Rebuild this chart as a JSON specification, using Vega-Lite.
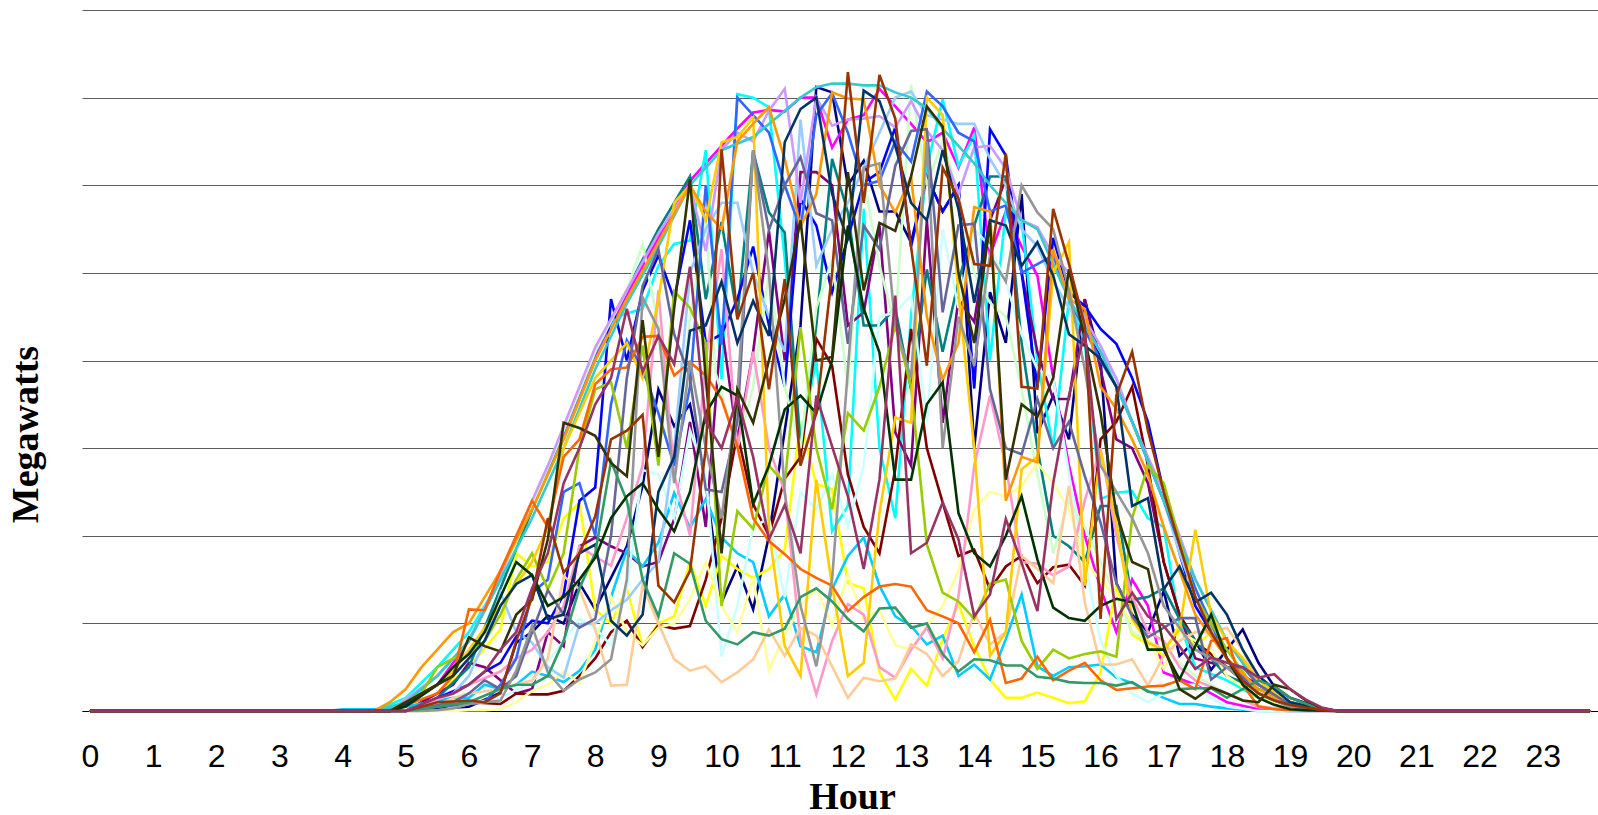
{"$schema":"https://vega.github.io/schema/vega-lite/v6.json","width":1516,"height":701,"autosize":{"type":"none"},"padding":{"left":82,"top":10,"right":0,"bottom":104},"background":"white","view":{"stroke":null},
"data":{"values":[
{"s":1,"h":0,"v":0},{"s":1,"h":5,"v":0},{"s":1,"h":5.5,"v":0.3},{"s":1,"h":6,"v":0.5},{"s":1,"h":6.5,"v":2.1},{"s":1,"h":6.75,"v":7.8},{"s":1,"h":7,"v":9},{"s":1,"h":7.25,"v":10.9},{"s":1,"h":7.5,"v":10},{"s":1,"h":7.75,"v":14.6},{"s":1,"h":8,"v":11.6},{"s":1,"h":8.5,"v":18.8},{"s":1,"h":8.75,"v":25.7},{"s":1,"h":9,"v":36.7},{"s":1,"h":9.25,"v":32.5},{"s":1,"h":9.5,"v":35},{"s":1,"h":9.75,"v":26},{"s":1,"h":10,"v":12.4},{"s":1,"h":10.25,"v":16.5},{"s":1,"h":10.5,"v":11.6},{"s":1,"h":10.75,"v":20},{"s":1,"h":11,"v":32},{"s":1,"h":11.25,"v":44},{"s":1,"h":11.5,"v":71.2},{"s":1,"h":11.75,"v":70.6},{"s":1,"h":12,"v":60},{"s":1,"h":12.25,"v":62.8},{"s":1,"h":12.5,"v":57},{"s":1,"h":12.75,"v":57},{"s":1,"h":13,"v":53.5},{"s":1,"h":13.25,"v":61},{"s":1,"h":13.5,"v":57},{"s":1,"h":13.75,"v":60},{"s":1,"h":14,"v":30},{"s":1,"h":14.25,"v":47.8},{"s":1,"h":14.5,"v":42},{"s":1,"h":14.75,"v":59},{"s":1,"h":15,"v":31.7},{"s":1,"h":15.25,"v":36},{"s":1,"h":15.5,"v":31},{"s":1,"h":15.75,"v":47},{"s":1,"h":16,"v":40},{"s":1,"h":16.25,"v":14.6},{"s":1,"h":16.5,"v":11},{"s":1,"h":16.75,"v":9},{"s":1,"h":17,"v":13.7},{"s":1,"h":17.25,"v":6.3},{"s":1,"h":17.5,"v":8},{"s":1,"h":17.75,"v":4.7},{"s":1,"h":18.25,"v":9.3},{"s":1,"h":18.5,"v":5.5},{"s":1,"h":18.75,"v":2.8},{"s":1,"h":19,"v":1.5},{"s":1,"h":19.5,"v":0.3},{"s":1,"h":19.75,"v":0},{"s":1,"h":23.75,"v":0},
{"s":2,"h":0,"v":0},{"s":2,"h":4.75,"v":0},{"s":2,"h":5.5,"v":3},{"s":2,"h":6,"v":8},{"s":2,"h":6.5,"v":15},{"s":2,"h":7,"v":23},{"s":2,"h":7.5,"v":31.5},{"s":2,"h":8,"v":40.5},{"s":2,"h":8.5,"v":47.5},{"s":2,"h":9,"v":54},{"s":2,"h":9.5,"v":60.5},{"s":2,"h":10,"v":64.5},{"s":2,"h":10.25,"v":66.5},{"s":2,"h":10.5,"v":68.3},{"s":2,"h":10.75,"v":68.6},{"s":2,"h":11,"v":68.4},{"s":2,"h":11.25,"v":70},{"s":2,"h":11.5,"v":70},{"s":2,"h":11.75,"v":64.3},{"s":2,"h":12,"v":67.5},{"s":2,"h":12.25,"v":68},{"s":2,"h":12.5,"v":71},{"s":2,"h":12.75,"v":69},{"s":2,"h":13,"v":67},{"s":2,"h":13.25,"v":64.9},{"s":2,"h":13.5,"v":66},{"s":2,"h":13.75,"v":62},{"s":2,"h":14,"v":66.6},{"s":2,"h":14.25,"v":52},{"s":2,"h":14.5,"v":57},{"s":2,"h":14.75,"v":53},{"s":2,"h":15,"v":49.7},{"s":2,"h":15.25,"v":38},{"s":2,"h":15.5,"v":28},{"s":2,"h":15.75,"v":20},{"s":2,"h":16,"v":14},{"s":2,"h":16.25,"v":9},{"s":2,"h":16.5,"v":15},{"s":2,"h":16.75,"v":12},{"s":2,"h":17,"v":4.4},{"s":2,"h":17.5,"v":3},{"s":2,"h":18,"v":1},{"s":2,"h":18.5,"v":0.2},{"s":2,"h":19,"v":0},{"s":2,"h":23.75,"v":0},
{"s":3,"h":0,"v":0},{"s":3,"h":5,"v":0},{"s":3,"h":5.5,"v":2},{"s":3,"h":6,"v":5},{"s":3,"h":6.5,"v":9.3},{"s":3,"h":6.75,"v":18},{"s":3,"h":7,"v":16.5},{"s":3,"h":7.25,"v":17},{"s":3,"h":7.5,"v":22},{"s":3,"h":7.75,"v":23.8},{"s":3,"h":8,"v":11.6},{"s":3,"h":8.25,"v":10},{"s":3,"h":8.5,"v":14},{"s":3,"h":8.75,"v":7.4},{"s":3,"h":9,"v":10},{"s":3,"h":9.25,"v":10.8},{"s":3,"h":9.5,"v":17},{"s":3,"h":9.75,"v":12},{"s":3,"h":10,"v":17.7},{"s":3,"h":10.25,"v":16.2},{"s":3,"h":10.5,"v":15.2},{"s":3,"h":10.75,"v":16.2},{"s":3,"h":11,"v":18.4},{"s":3,"h":11.25,"v":33},{"s":3,"h":11.5,"v":25.9},{"s":3,"h":11.75,"v":25.3},{"s":3,"h":12,"v":14.6},{"s":3,"h":12.25,"v":14},{"s":3,"h":12.5,"v":4.4},{"s":3,"h":12.75,"v":1.3},{"s":3,"h":13,"v":4.8},{"s":3,"h":13.25,"v":2.9},{"s":3,"h":13.5,"v":8.2},{"s":3,"h":13.75,"v":12.2},{"s":3,"h":14,"v":7.4},{"s":3,"h":14.25,"v":3.6},{"s":3,"h":14.5,"v":1.5},{"s":3,"h":14.75,"v":1.5},{"s":3,"h":15,"v":2.1},{"s":3,"h":15.25,"v":1.5},{"s":3,"h":15.5,"v":0.9},{"s":3,"h":15.75,"v":1.1},{"s":3,"h":16,"v":4.4},{"s":3,"h":16.25,"v":14.3},{"s":3,"h":16.5,"v":8.7},{"s":3,"h":16.75,"v":7.6},{"s":3,"h":17,"v":6.3},{"s":3,"h":17.25,"v":10},{"s":3,"h":17.5,"v":7.4},{"s":3,"h":17.75,"v":9},{"s":3,"h":18,"v":6},{"s":3,"h":18.5,"v":2},{"s":3,"h":19,"v":0.5},{"s":3,"h":19.75,"v":0},{"s":3,"h":23.75,"v":0},
{"s":4,"h":0,"v":0},{"s":4,"h":4.5,"v":0},{"s":4,"h":5,"v":1.5},{"s":4,"h":5.5,"v":5},{"s":4,"h":6,"v":9},{"s":4,"h":6.5,"v":15},{"s":4,"h":7,"v":23},{"s":4,"h":7.5,"v":31},{"s":4,"h":8,"v":40},{"s":4,"h":8.34,"v":45},{"s":4,"h":8.75,"v":45.9},{"s":4,"h":9,"v":50.8},{"s":4,"h":9.25,"v":53.3},{"s":4,"h":9.5,"v":53.7},{"s":4,"h":9.75,"v":64},{"s":4,"h":10,"v":37.9},{"s":4,"h":10.25,"v":70.4},{"s":4,"h":10.5,"v":70},{"s":4,"h":10.75,"v":68.9},{"s":4,"h":11,"v":51.6},{"s":4,"h":11.25,"v":31},{"s":4,"h":11.5,"v":40},{"s":4,"h":11.75,"v":20.5},{"s":4,"h":12,"v":23.4},{"s":4,"h":12.25,"v":57.3},{"s":4,"h":12.5,"v":30},{"s":4,"h":12.75,"v":22},{"s":4,"h":13,"v":45},{"s":4,"h":13.25,"v":62},{"s":4,"h":13.5,"v":69.8},{"s":4,"h":13.75,"v":62.2},{"s":4,"h":14,"v":65.7},{"s":4,"h":14.25,"v":40},{"s":4,"h":14.5,"v":57},{"s":4,"h":14.75,"v":56},{"s":4,"h":15,"v":40},{"s":4,"h":15.25,"v":30},{"s":4,"h":15.5,"v":47},{"s":4,"h":15.75,"v":42},{"s":4,"h":16,"v":24.2},{"s":4,"h":16.25,"v":24.9},{"s":4,"h":16.5,"v":25.1},{"s":4,"h":16.75,"v":22},{"s":4,"h":17,"v":21},{"s":4,"h":17.25,"v":10},{"s":4,"h":17.5,"v":5},{"s":4,"h":18,"v":3.5},{"s":4,"h":18.5,"v":1.5},{"s":4,"h":19,"v":0.4},{"s":4,"h":19.75,"v":0},{"s":4,"h":23.75,"v":0},
{"s":5,"h":0,"v":0},{"s":5,"h":5,"v":0},{"s":5,"h":5.75,"v":3},{"s":5,"h":6,"v":5.5},{"s":5,"h":6.25,"v":5},{"s":5,"h":6.5,"v":3.5},{"s":5,"h":6.75,"v":2},{"s":5,"h":7,"v":2.5},{"s":5,"h":7.25,"v":9},{"s":5,"h":7.5,"v":7.4},{"s":5,"h":7.75,"v":18.8},{"s":5,"h":8,"v":19.8},{"s":5,"h":8.25,"v":18.8},{"s":5,"h":8.5,"v":18},{"s":5,"h":8.75,"v":16.5},{"s":5,"h":9,"v":17},{"s":5,"h":9.25,"v":21.9},{"s":5,"h":9.5,"v":33},{"s":5,"h":9.75,"v":21},{"s":5,"h":10,"v":44},{"s":5,"h":10.25,"v":31},{"s":5,"h":10.5,"v":41},{"s":5,"h":10.75,"v":54.8},{"s":5,"h":11,"v":40},{"s":5,"h":11.25,"v":61.5},{"s":5,"h":11.5,"v":61.5},{"s":5,"h":11.75,"v":60},{"s":5,"h":12,"v":44},{"s":5,"h":12.25,"v":45.5},{"s":5,"h":12.5,"v":55.4},{"s":5,"h":12.75,"v":31.8},{"s":5,"h":13,"v":28},{"s":5,"h":13.25,"v":56},{"s":5,"h":13.5,"v":32.9},{"s":5,"h":13.75,"v":47},{"s":5,"h":14,"v":44.4},{"s":5,"h":14.25,"v":56},{"s":5,"h":14.5,"v":60.7},{"s":5,"h":14.75,"v":50},{"s":5,"h":15,"v":41},{"s":5,"h":15.25,"v":35.6},{"s":5,"h":15.5,"v":35.6},{"s":5,"h":15.75,"v":47},{"s":5,"h":16,"v":39},{"s":5,"h":16.25,"v":31},{"s":5,"h":16.5,"v":30},{"s":5,"h":16.75,"v":26},{"s":5,"h":17,"v":17},{"s":5,"h":17.25,"v":11},{"s":5,"h":17.5,"v":6},{"s":5,"h":18,"v":5},{"s":5,"h":18.5,"v":3},{"s":5,"h":19,"v":0.7},{"s":5,"h":19.75,"v":0},{"s":5,"h":23.75,"v":0},
{"s":6,"h":0,"v":0},{"s":6,"h":5,"v":0},{"s":6,"h":5.5,"v":0.5},{"s":6,"h":6,"v":1},{"s":6,"h":6.5,"v":0.8},{"s":6,"h":6.75,"v":2},{"s":6,"h":7,"v":1.9},{"s":6,"h":7.25,"v":1.9},{"s":6,"h":7.5,"v":2.3},{"s":6,"h":7.75,"v":4},{"s":6,"h":8,"v":6},{"s":6,"h":8.25,"v":9},{"s":6,"h":8.5,"v":10.3},{"s":6,"h":8.75,"v":7.3},{"s":6,"h":9,"v":9.8},{"s":6,"h":9.25,"v":9.4},{"s":6,"h":9.5,"v":9.7},{"s":6,"h":9.75,"v":15},{"s":6,"h":10,"v":22},{"s":6,"h":10.25,"v":31.7},{"s":6,"h":10.5,"v":23.6},{"s":6,"h":10.75,"v":20},{"s":6,"h":11,"v":26.5},{"s":6,"h":11.25,"v":29},{"s":6,"h":11.5,"v":42.5},{"s":6,"h":11.75,"v":39.4},{"s":6,"h":12,"v":27},{"s":6,"h":12.25,"v":21},{"s":6,"h":12.5,"v":18},{"s":6,"h":12.75,"v":27.6},{"s":6,"h":13,"v":43.6},{"s":6,"h":13.25,"v":30},{"s":6,"h":13.5,"v":23.8},{"s":6,"h":13.75,"v":17.7},{"s":6,"h":14,"v":18.4},{"s":6,"h":14.25,"v":13.9},{"s":6,"h":14.5,"v":16.5},{"s":6,"h":14.75,"v":17.7},{"s":6,"h":15,"v":14.6},{"s":6,"h":15.25,"v":16.4},{"s":6,"h":15.5,"v":16.7},{"s":6,"h":15.75,"v":14.3},{"s":6,"h":16,"v":31},{"s":6,"h":16.25,"v":33},{"s":6,"h":16.5,"v":37},{"s":6,"h":16.75,"v":28},{"s":6,"h":17,"v":17},{"s":6,"h":17.25,"v":11},{"s":6,"h":17.5,"v":8},{"s":6,"h":18,"v":5},{"s":6,"h":18.5,"v":2},{"s":6,"h":19,"v":0.6},{"s":6,"h":19.75,"v":0},{"s":6,"h":23.75,"v":0},
{"s":7,"h":0,"v":0},{"s":7,"h":5,"v":0},{"s":7,"h":5.5,"v":1.5},{"s":7,"h":6,"v":5},{"s":7,"h":6.5,"v":14},{"s":7,"h":7,"v":23},{"s":7,"h":7.5,"v":32},{"s":7,"h":8,"v":41},{"s":7,"h":8.5,"v":48},{"s":7,"h":9,"v":55},{"s":7,"h":9.5,"v":61},{"s":7,"h":9.75,"v":47},{"s":7,"h":10,"v":55.8},{"s":7,"h":10.25,"v":45},{"s":7,"h":10.5,"v":63.8},{"s":7,"h":10.75,"v":56.9},{"s":7,"h":11,"v":54.6},{"s":7,"h":11.25,"v":30},{"s":7,"h":11.5,"v":44},{"s":7,"h":11.75,"v":63},{"s":7,"h":12,"v":56.9},{"s":7,"h":12.25,"v":44},{"s":7,"h":12.5,"v":44},{"s":7,"h":12.75,"v":46},{"s":7,"h":13,"v":36.7},{"s":7,"h":13.25,"v":50.4},{"s":7,"h":13.5,"v":41},{"s":7,"h":13.75,"v":49},{"s":7,"h":14,"v":55.4},{"s":7,"h":14.25,"v":61},{"s":7,"h":14.5,"v":61},{"s":7,"h":14.75,"v":42},{"s":7,"h":15,"v":30},{"s":7,"h":15.25,"v":20},{"s":7,"h":15.5,"v":18.8},{"s":7,"h":15.75,"v":17},{"s":7,"h":16,"v":23.4},{"s":7,"h":16.25,"v":23.4},{"s":7,"h":16.5,"v":12.7},{"s":7,"h":16.75,"v":13},{"s":7,"h":17,"v":14},{"s":7,"h":17.25,"v":10.5},{"s":7,"h":17.5,"v":8},{"s":7,"h":17.75,"v":6},{"s":7,"h":18,"v":4},{"s":7,"h":19,"v":1},{"s":7,"h":19.75,"v":0},{"s":7,"h":23.75,"v":0},
{"s":8,"h":0,"v":0},{"s":8,"h":5,"v":0},{"s":8,"h":5.25,"v":0.7},{"s":8,"h":5.5,"v":1.5},{"s":8,"h":6,"v":3},{"s":8,"h":6.25,"v":4.5},{"s":8,"h":6.5,"v":5.5},{"s":8,"h":6.75,"v":8.5},{"s":8,"h":7,"v":10.3},{"s":8,"h":7.25,"v":10},{"s":8,"h":7.5,"v":13.3},{"s":8,"h":7.75,"v":24},{"s":8,"h":8,"v":25.5},{"s":8,"h":8.25,"v":47},{"s":8,"h":8.5,"v":40},{"s":8,"h":8.75,"v":48},{"s":8,"h":9,"v":52},{"s":8,"h":9.25,"v":47},{"s":8,"h":9.5,"v":56},{"s":8,"h":9.75,"v":42},{"s":8,"h":10,"v":43},{"s":8,"h":10.25,"v":47},{"s":8,"h":10.5,"v":53},{"s":8,"h":10.75,"v":44},{"s":8,"h":11,"v":37},{"s":8,"h":11.25,"v":58.4},{"s":8,"h":11.5,"v":55.4},{"s":8,"h":11.75,"v":47.8},{"s":8,"h":12,"v":54},{"s":8,"h":12.25,"v":60.3},{"s":8,"h":12.5,"v":61.5},{"s":8,"h":12.75,"v":66.6},{"s":8,"h":13,"v":53},{"s":8,"h":13.25,"v":61},{"s":8,"h":13.5,"v":57},{"s":8,"h":13.75,"v":60},{"s":8,"h":14,"v":36.8},{"s":8,"h":14.25,"v":66.4},{"s":8,"h":14.5,"v":63.4},{"s":8,"h":14.75,"v":50},{"s":8,"h":15,"v":37},{"s":8,"h":15.25,"v":54},{"s":8,"h":15.5,"v":47.8},{"s":8,"h":15.75,"v":46.2},{"s":8,"h":16,"v":43.6},{"s":8,"h":16.25,"v":41.9},{"s":8,"h":16.5,"v":38},{"s":8,"h":16.75,"v":33},{"s":8,"h":17,"v":25},{"s":8,"h":17.25,"v":18},{"s":8,"h":17.5,"v":12},{"s":8,"h":18,"v":6},{"s":8,"h":18.5,"v":2},{"s":8,"h":19,"v":0.5},{"s":8,"h":19.75,"v":0},{"s":8,"h":23.75,"v":0},
{"s":9,"h":0,"v":0},{"s":9,"h":3.75,"v":0},{"s":9,"h":4,"v":0.2},{"s":9,"h":4.5,"v":0.2},{"s":9,"h":5,"v":0.5},{"s":9,"h":5.75,"v":1.5},{"s":9,"h":6,"v":1.5},{"s":9,"h":6.25,"v":3},{"s":9,"h":6.5,"v":2.5},{"s":9,"h":6.75,"v":3},{"s":9,"h":7,"v":4.5},{"s":9,"h":7.25,"v":4},{"s":9,"h":7.5,"v":3.3},{"s":9,"h":7.75,"v":4.6},{"s":9,"h":8,"v":7},{"s":9,"h":8.25,"v":13},{"s":9,"h":8.5,"v":18.4},{"s":9,"h":8.75,"v":16.5},{"s":9,"h":9,"v":19.2},{"s":9,"h":9.25,"v":24.9},{"s":9,"h":9.5,"v":20.9},{"s":9,"h":9.75,"v":24.2},{"s":9,"h":10,"v":19.8},{"s":9,"h":10.25,"v":18},{"s":9,"h":10.5,"v":17},{"s":9,"h":10.75,"v":10.8},{"s":9,"h":11,"v":13.3},{"s":9,"h":11.25,"v":7.4},{"s":9,"h":11.5,"v":6.7},{"s":9,"h":11.75,"v":13.9},{"s":9,"h":12,"v":17.7},{"s":9,"h":12.25,"v":19.8},{"s":9,"h":12.5,"v":14.3},{"s":9,"h":12.75,"v":10.8},{"s":9,"h":13,"v":9.7},{"s":9,"h":13.25,"v":7.6},{"s":9,"h":13.5,"v":8.6},{"s":9,"h":13.75,"v":4},{"s":9,"h":14,"v":5.3},{"s":9,"h":14.25,"v":3.6},{"s":9,"h":14.5,"v":8.2},{"s":9,"h":14.75,"v":13.3},{"s":9,"h":15,"v":5.1},{"s":9,"h":15.25,"v":4},{"s":9,"h":15.5,"v":5},{"s":9,"h":15.75,"v":5.1},{"s":9,"h":16,"v":5.3},{"s":9,"h":16.25,"v":3.8},{"s":9,"h":16.5,"v":3.2},{"s":9,"h":16.75,"v":2.3},{"s":9,"h":17,"v":1.5},{"s":9,"h":17.25,"v":0.8},{"s":9,"h":17.5,"v":0.8},{"s":9,"h":17.75,"v":0.5},{"s":9,"h":18,"v":0.3},{"s":9,"h":18.5,"v":0},{"s":9,"h":23.75,"v":0},
{"s":10,"h":0,"v":0},{"s":10,"h":5.5,"v":0},{"s":10,"h":6,"v":0.8},{"s":10,"h":6.5,"v":1.5},{"s":10,"h":7,"v":3.3},{"s":10,"h":7.5,"v":8},{"s":10,"h":7.75,"v":10.5},{"s":10,"h":8,"v":9.5},{"s":10,"h":8.25,"v":7.5},{"s":10,"h":8.5,"v":14},{"s":10,"h":8.75,"v":27.5},{"s":10,"h":9,"v":27},{"s":10,"h":9.25,"v":22},{"s":10,"h":9.5,"v":32},{"s":10,"h":9.75,"v":27},{"s":10,"h":10,"v":6.2},{"s":10,"h":10.25,"v":12},{"s":10,"h":10.5,"v":21},{"s":10,"h":10.75,"v":22},{"s":10,"h":11,"v":13},{"s":10,"h":11.25,"v":25},{"s":10,"h":11.5,"v":23},{"s":10,"h":11.75,"v":27},{"s":10,"h":12,"v":21},{"s":10,"h":12.25,"v":28},{"s":10,"h":12.5,"v":45},{"s":10,"h":12.75,"v":45.5},{"s":10,"h":13,"v":47.4},{"s":10,"h":13.25,"v":33},{"s":10,"h":13.5,"v":55},{"s":10,"h":13.75,"v":46},{"s":10,"h":14,"v":55},{"s":10,"h":14.25,"v":53},{"s":10,"h":14.5,"v":49},{"s":10,"h":14.75,"v":43},{"s":10,"h":15,"v":39},{"s":10,"h":15.25,"v":38},{"s":10,"h":15.5,"v":27},{"s":10,"h":15.75,"v":17},{"s":10,"h":16,"v":8},{"s":10,"h":16.25,"v":4},{"s":10,"h":16.5,"v":2},{"s":10,"h":16.75,"v":1},{"s":10,"h":17,"v":2},{"s":10,"h":17.25,"v":3},{"s":10,"h":17.5,"v":3},{"s":10,"h":17.75,"v":1.5},{"s":10,"h":18,"v":0.5},{"s":10,"h":18.5,"v":0},{"s":10,"h":23.75,"v":0},
{"s":11,"h":0,"v":0},{"s":11,"h":4.75,"v":0},{"s":11,"h":5.5,"v":4},{"s":11,"h":6,"v":8},{"s":11,"h":6.5,"v":15},{"s":11,"h":7,"v":23.5},{"s":11,"h":7.5,"v":32},{"s":11,"h":8,"v":41},{"s":11,"h":8.5,"v":48},{"s":11,"h":8.75,"v":53.3},{"s":11,"h":9,"v":44},{"s":11,"h":9.25,"v":28},{"s":11,"h":9.5,"v":45},{"s":11,"h":9.75,"v":56},{"s":11,"h":9.9,"v":38.7},{"s":11,"h":10.25,"v":30},{"s":11,"h":10.5,"v":37},{"s":11,"h":10.75,"v":50},{"s":11,"h":11,"v":37},{"s":11,"h":11.25,"v":30},{"s":11,"h":11.5,"v":46},{"s":11,"h":11.75,"v":51.6},{"s":11,"h":12,"v":37},{"s":11,"h":12.25,"v":60.7},{"s":11,"h":12.5,"v":50.8},{"s":11,"h":12.75,"v":44},{"s":11,"h":13,"v":71.5},{"s":11,"h":13.25,"v":60},{"s":11,"h":13.5,"v":65},{"s":11,"h":13.75,"v":59},{"s":11,"h":14,"v":50},{"s":11,"h":14.25,"v":46.6},{"s":11,"h":14.5,"v":45},{"s":11,"h":14.75,"v":36.7},{"s":11,"h":15,"v":27},{"s":11,"h":15.25,"v":18},{"s":11,"h":15.5,"v":24},{"s":11,"h":15.75,"v":21},{"s":11,"h":16,"v":17},{"s":11,"h":16.25,"v":13},{"s":11,"h":16.5,"v":9},{"s":11,"h":17,"v":7},{"s":11,"h":17.5,"v":4},{"s":11,"h":18,"v":2},{"s":11,"h":18.5,"v":0.5},{"s":11,"h":19.25,"v":0},{"s":11,"h":23.75,"v":0},
{"s":12,"h":0,"v":0},{"s":12,"h":5.75,"v":0},{"s":12,"h":6,"v":0.1},{"s":12,"h":6.25,"v":0.1},{"s":12,"h":6.5,"v":0.2},{"s":12,"h":6.75,"v":1},{"s":12,"h":7,"v":2.3},{"s":12,"h":7.25,"v":3},{"s":12,"h":7.5,"v":4.5},{"s":12,"h":7.75,"v":3.2},{"s":12,"h":8,"v":8},{"s":12,"h":8.25,"v":13},{"s":12,"h":8.5,"v":9},{"s":12,"h":8.75,"v":7.5},{"s":12,"h":9,"v":9.5},{"s":12,"h":9.25,"v":10},{"s":12,"h":9.5,"v":12.7},{"s":12,"h":9.75,"v":17},{"s":12,"h":10,"v":12},{"s":12,"h":10.25,"v":9},{"s":12,"h":10.5,"v":15.2},{"s":12,"h":10.75,"v":4.7},{"s":12,"h":11,"v":8.6},{"s":12,"h":11.25,"v":12},{"s":12,"h":11.5,"v":14},{"s":12,"h":11.75,"v":9.8},{"s":12,"h":12,"v":15.5},{"s":12,"h":12.25,"v":10.5},{"s":12,"h":12.5,"v":11.5},{"s":12,"h":12.75,"v":7.5},{"s":12,"h":13,"v":7},{"s":12,"h":13.25,"v":9.7},{"s":12,"h":13.5,"v":12},{"s":12,"h":13.75,"v":16},{"s":12,"h":14,"v":23},{"s":12,"h":14.25,"v":25},{"s":12,"h":14.5,"v":24.5},{"s":12,"h":14.75,"v":25.7},{"s":12,"h":15,"v":28.3},{"s":12,"h":15.25,"v":26},{"s":12,"h":15.5,"v":23},{"s":12,"h":15.75,"v":17},{"s":12,"h":16,"v":15},{"s":12,"h":16.25,"v":13},{"s":12,"h":16.5,"v":10},{"s":12,"h":16.75,"v":8},{"s":12,"h":17,"v":4.8},{"s":12,"h":17.25,"v":9},{"s":12,"h":17.5,"v":8},{"s":12,"h":17.75,"v":7},{"s":12,"h":18,"v":4},{"s":12,"h":18.5,"v":1.5},{"s":12,"h":19,"v":0.3},{"s":12,"h":19.75,"v":0},{"s":12,"h":23.75,"v":0},
{"s":13,"h":0,"v":0},{"s":13,"h":5,"v":0},{"s":13,"h":5.75,"v":2},{"s":13,"h":6,"v":4},{"s":13,"h":6.25,"v":8},{"s":13,"h":6.5,"v":13.5},{"s":13,"h":6.75,"v":9},{"s":13,"h":7,"v":7.8},{"s":13,"h":7.25,"v":5},{"s":13,"h":7.5,"v":3.8},{"s":13,"h":7.75,"v":9.9},{"s":13,"h":8,"v":10},{"s":13,"h":8.25,"v":11.5},{"s":13,"h":8.5,"v":12.7},{"s":13,"h":8.75,"v":15},{"s":13,"h":9,"v":17},{"s":13,"h":9.25,"v":30},{"s":13,"h":9.5,"v":50},{"s":13,"h":9.75,"v":55},{"s":13,"h":10,"v":58},{"s":13,"h":10.25,"v":58},{"s":13,"h":10.5,"v":50},{"s":13,"h":10.75,"v":45},{"s":13,"h":11,"v":41},{"s":13,"h":11.25,"v":67.5},{"s":13,"h":11.5,"v":50.8},{"s":13,"h":11.75,"v":55},{"s":13,"h":12,"v":58},{"s":13,"h":12.25,"v":62},{"s":13,"h":12.5,"v":66},{"s":13,"h":12.75,"v":70},{"s":13,"h":13,"v":70.7},{"s":13,"h":13.25,"v":68},{"s":13,"h":13.5,"v":67.5},{"s":13,"h":13.75,"v":67},{"s":13,"h":14,"v":67},{"s":13,"h":14.25,"v":63},{"s":13,"h":14.5,"v":60},{"s":13,"h":14.75,"v":55},{"s":13,"h":15,"v":53},{"s":13,"h":15.25,"v":49},{"s":13,"h":15.5,"v":46},{"s":13,"h":15.75,"v":44},{"s":13,"h":16,"v":41},{"s":13,"h":16.25,"v":38},{"s":13,"h":16.5,"v":33},{"s":13,"h":17,"v":24},{"s":13,"h":17.25,"v":18},{"s":13,"h":17.5,"v":13},{"s":13,"h":18,"v":6},{"s":13,"h":18.5,"v":2},{"s":13,"h":19,"v":0.5},{"s":13,"h":19.75,"v":0},{"s":13,"h":23.75,"v":0},
{"s":14,"h":0,"v":0},{"s":14,"h":5,"v":0},{"s":14,"h":5.75,"v":2},{"s":14,"h":6,"v":3},{"s":14,"h":6.5,"v":4.5},{"s":14,"h":6.75,"v":6},{"s":14,"h":7,"v":7},{"s":14,"h":7.25,"v":9},{"s":14,"h":7.5,"v":12},{"s":14,"h":7.75,"v":18.8},{"s":14,"h":8,"v":17.6},{"s":14,"h":8.25,"v":16.6},{"s":14,"h":8.5,"v":22},{"s":14,"h":8.75,"v":28},{"s":14,"h":9,"v":48},{"s":14,"h":9.25,"v":27},{"s":14,"h":9.5,"v":20},{"s":14,"h":9.75,"v":40},{"s":14,"h":10,"v":52.7},{"s":14,"h":10.25,"v":30},{"s":14,"h":10.5,"v":41},{"s":14,"h":10.75,"v":30},{"s":14,"h":11,"v":25},{"s":14,"h":11.25,"v":8},{"s":14,"h":11.5,"v":1.9},{"s":14,"h":11.75,"v":8},{"s":14,"h":12,"v":12.2},{"s":14,"h":12.25,"v":11},{"s":14,"h":12.5,"v":5},{"s":14,"h":12.75,"v":3.8},{"s":14,"h":13,"v":7},{"s":14,"h":13.25,"v":9.5},{"s":14,"h":13.5,"v":6},{"s":14,"h":13.75,"v":13},{"s":14,"h":14,"v":28},{"s":14,"h":14.25,"v":36},{"s":14,"h":14.5,"v":28},{"s":14,"h":14.75,"v":17},{"s":14,"h":15,"v":16.8},{"s":14,"h":15.25,"v":15.5},{"s":14,"h":15.5,"v":16.5},{"s":14,"h":15.75,"v":24},{"s":14,"h":16,"v":30},{"s":14,"h":16.25,"v":20},{"s":14,"h":16.5,"v":13},{"s":14,"h":16.75,"v":9},{"s":14,"h":17,"v":8},{"s":14,"h":17.25,"v":5},{"s":14,"h":17.5,"v":3.5},{"s":14,"h":18,"v":2},{"s":14,"h":18.5,"v":0.5},{"s":14,"h":19.25,"v":0},{"s":14,"h":23.75,"v":0},
{"s":15,"h":0,"v":0},{"s":15,"h":4.75,"v":0},{"s":15,"h":5.5,"v":4},{"s":15,"h":6,"v":8},{"s":15,"h":6.5,"v":15.5},{"s":15,"h":7,"v":24},{"s":15,"h":7.25,"v":28},{"s":15,"h":7.5,"v":32.5},{"s":15,"h":8,"v":41.5},{"s":15,"h":8.5,"v":48},{"s":15,"h":9,"v":54.5},{"s":15,"h":9.5,"v":60},{"s":15,"h":9.75,"v":52.5},{"s":15,"h":10,"v":64},{"s":15,"h":10.25,"v":66},{"s":15,"h":10.5,"v":65},{"s":15,"h":10.75,"v":68.5},{"s":15,"h":11,"v":71},{"s":15,"h":11.25,"v":58},{"s":15,"h":11.5,"v":70},{"s":15,"h":11.75,"v":66.8},{"s":15,"h":12,"v":67.5},{"s":15,"h":12.25,"v":67.6},{"s":15,"h":12.5,"v":67.9},{"s":15,"h":12.75,"v":66.6},{"s":15,"h":13,"v":69.6},{"s":15,"h":13.25,"v":66.2},{"s":15,"h":13.5,"v":64},{"s":15,"h":13.75,"v":59},{"s":15,"h":14,"v":64.3},{"s":15,"h":14.25,"v":64.5},{"s":15,"h":14.5,"v":61.9},{"s":15,"h":14.75,"v":56},{"s":15,"h":15,"v":55.2},{"s":15,"h":15.25,"v":52},{"s":15,"h":15.5,"v":50},{"s":15,"h":15.75,"v":44.7},{"s":15,"h":16,"v":41.7},{"s":15,"h":16.25,"v":37.9},{"s":15,"h":16.5,"v":33},{"s":15,"h":17,"v":25},{"s":15,"h":17.5,"v":15},{"s":15,"h":18,"v":8},{"s":15,"h":18.5,"v":3},{"s":15,"h":19,"v":1},{"s":15,"h":19.75,"v":0},{"s":15,"h":23.75,"v":0},
{"s":16,"h":0,"v":0},{"s":16,"h":5,"v":0},{"s":16,"h":5.5,"v":0.7},{"s":16,"h":5.75,"v":1.5},{"s":16,"h":6,"v":2},{"s":16,"h":6.5,"v":2.5},{"s":16,"h":7,"v":3.5},{"s":16,"h":7.25,"v":6},{"s":16,"h":7.5,"v":15.4},{"s":16,"h":7.75,"v":13.9},{"s":16,"h":8,"v":9.3},{"s":16,"h":8.25,"v":2.9},{"s":16,"h":8.5,"v":3},{"s":16,"h":8.75,"v":14.3},{"s":16,"h":9,"v":10},{"s":16,"h":9.25,"v":5.9},{"s":16,"h":9.5,"v":4.6},{"s":16,"h":9.75,"v":5.1},{"s":16,"h":10,"v":3.3},{"s":16,"h":10.25,"v":4.4},{"s":16,"h":10.5,"v":5.9},{"s":16,"h":10.75,"v":9.3},{"s":16,"h":11,"v":6.3},{"s":16,"h":11.25,"v":9.5},{"s":16,"h":11.5,"v":8.6},{"s":16,"h":11.75,"v":5.1},{"s":16,"h":12,"v":1.5},{"s":16,"h":12.25,"v":3.8},{"s":16,"h":12.5,"v":3.4},{"s":16,"h":12.75,"v":3.7},{"s":16,"h":13,"v":7.6},{"s":16,"h":13.25,"v":6.5},{"s":16,"h":13.5,"v":4},{"s":16,"h":13.75,"v":5.7},{"s":16,"h":14,"v":11.2},{"s":16,"h":14.25,"v":7.6},{"s":16,"h":14.5,"v":9},{"s":16,"h":14.75,"v":17.7},{"s":16,"h":15,"v":16.2},{"s":16,"h":15.25,"v":14.6},{"s":16,"h":15.5,"v":25.7},{"s":16,"h":15.75,"v":12.4},{"s":16,"h":16,"v":5.3},{"s":16,"h":16.25,"v":5.3},{"s":16,"h":16.5,"v":5.9},{"s":16,"h":16.75,"v":2.9},{"s":16,"h":17,"v":6.3},{"s":16,"h":17.25,"v":8},{"s":16,"h":17.5,"v":9},{"s":16,"h":17.75,"v":9},{"s":16,"h":18,"v":9.5},{"s":16,"h":18.25,"v":7},{"s":16,"h":18.5,"v":3},{"s":16,"h":19,"v":0.5},{"s":16,"h":19.75,"v":0},{"s":16,"h":23.75,"v":0},
{"s":17,"h":0,"v":0},{"s":17,"h":5,"v":0},{"s":17,"h":5.5,"v":0.5},{"s":17,"h":6,"v":0.8},{"s":17,"h":6.25,"v":1},{"s":17,"h":6.5,"v":3},{"s":17,"h":6.75,"v":6},{"s":17,"h":7,"v":13.5},{"s":17,"h":7.25,"v":15},{"s":17,"h":7.5,"v":25},{"s":17,"h":7.75,"v":26},{"s":17,"h":8,"v":20},{"s":17,"h":8.25,"v":35},{"s":17,"h":8.5,"v":42.3},{"s":17,"h":8.75,"v":39},{"s":17,"h":9,"v":34},{"s":17,"h":9.25,"v":28},{"s":17,"h":9.5,"v":37},{"s":17,"h":9.75,"v":60},{"s":17,"h":10,"v":41.8},{"s":17,"h":10.25,"v":70},{"s":17,"h":10.5,"v":68},{"s":17,"h":10.75,"v":66},{"s":17,"h":11,"v":60},{"s":17,"h":11.25,"v":55},{"s":17,"h":11.5,"v":68},{"s":17,"h":11.75,"v":70.5},{"s":17,"h":12,"v":66},{"s":17,"h":12.25,"v":60},{"s":17,"h":12.5,"v":60.5},{"s":17,"h":12.75,"v":65},{"s":17,"h":13,"v":62.7},{"s":17,"h":13.25,"v":70.7},{"s":17,"h":13.5,"v":69},{"s":17,"h":13.75,"v":66},{"s":17,"h":14,"v":65},{"s":17,"h":14.25,"v":57},{"s":17,"h":14.5,"v":57.7},{"s":17,"h":14.75,"v":50},{"s":17,"h":15,"v":51},{"s":17,"h":15.25,"v":52},{"s":17,"h":15.5,"v":47},{"s":17,"h":16,"v":40},{"s":17,"h":16.25,"v":37},{"s":17,"h":16.5,"v":33},{"s":17,"h":17,"v":24},{"s":17,"h":17.5,"v":14},{"s":17,"h":18,"v":6},{"s":17,"h":18.5,"v":2},{"s":17,"h":19,"v":0.5},{"s":17,"h":19.75,"v":0},{"s":17,"h":23.75,"v":0},
{"s":18,"h":0,"v":0},{"s":18,"h":4.5,"v":0},{"s":18,"h":5,"v":1},{"s":18,"h":5.5,"v":4},{"s":18,"h":6,"v":8},{"s":18,"h":6.5,"v":15},{"s":18,"h":7,"v":22},{"s":18,"h":7.5,"v":30},{"s":18,"h":8,"v":39},{"s":18,"h":8.5,"v":46.5},{"s":18,"h":9,"v":53},{"s":18,"h":9.5,"v":60},{"s":18,"h":10,"v":64},{"s":18,"h":10.5,"v":65.5},{"s":18,"h":10.75,"v":67},{"s":18,"h":11,"v":68.5},{"s":18,"h":11.25,"v":70},{"s":18,"h":11.5,"v":71.2},{"s":18,"h":11.75,"v":71.6},{"s":18,"h":12,"v":71.6},{"s":18,"h":12.25,"v":71.4},{"s":18,"h":12.5,"v":71.4},{"s":18,"h":12.75,"v":70.6},{"s":18,"h":13,"v":70},{"s":18,"h":13.25,"v":68.8},{"s":18,"h":13.5,"v":66.5},{"s":18,"h":13.75,"v":64.5},{"s":18,"h":14,"v":62.5},{"s":18,"h":14.25,"v":60},{"s":18,"h":14.5,"v":58},{"s":18,"h":14.75,"v":56},{"s":18,"h":15,"v":55},{"s":18,"h":15.25,"v":51},{"s":18,"h":15.5,"v":47},{"s":18,"h":15.75,"v":44},{"s":18,"h":16,"v":41},{"s":18,"h":16.5,"v":33},{"s":18,"h":17,"v":24},{"s":18,"h":17.5,"v":15},{"s":18,"h":18,"v":8},{"s":18,"h":18.5,"v":3},{"s":18,"h":19,"v":1},{"s":18,"h":19.5,"v":0.2},{"s":18,"h":19.75,"v":0},{"s":18,"h":23.75,"v":0},
{"s":19,"h":0,"v":0},{"s":19,"h":4.75,"v":0},{"s":19,"h":5.25,"v":2},{"s":19,"h":5.5,"v":5},{"s":19,"h":5.75,"v":6},{"s":19,"h":6,"v":6.5},{"s":19,"h":6.25,"v":8},{"s":19,"h":6.5,"v":11},{"s":19,"h":6.75,"v":15},{"s":19,"h":7,"v":18},{"s":19,"h":7.25,"v":13.9},{"s":19,"h":7.5,"v":18},{"s":19,"h":7.75,"v":30},{"s":19,"h":8,"v":36.7},{"s":19,"h":8.25,"v":37.5},{"s":19,"h":8.5,"v":30},{"s":19,"h":8.75,"v":41.7},{"s":19,"h":9,"v":28},{"s":19,"h":9.25,"v":47.9},{"s":19,"h":9.5,"v":46},{"s":19,"h":9.75,"v":42},{"s":19,"h":10,"v":12},{"s":19,"h":10.25,"v":22.8},{"s":19,"h":10.5,"v":20.8},{"s":19,"h":10.75,"v":28},{"s":19,"h":11,"v":26},{"s":19,"h":11.25,"v":43.8},{"s":19,"h":11.5,"v":30},{"s":19,"h":11.75,"v":23},{"s":19,"h":12,"v":34},{"s":19,"h":12.25,"v":32},{"s":19,"h":12.5,"v":37},{"s":19,"h":12.75,"v":44},{"s":19,"h":13,"v":37},{"s":19,"h":13.25,"v":19},{"s":19,"h":13.5,"v":13.5},{"s":19,"h":13.75,"v":12.5},{"s":19,"h":14,"v":10.5},{"s":19,"h":14.25,"v":14.5},{"s":19,"h":14.5,"v":15},{"s":19,"h":14.75,"v":8},{"s":19,"h":15,"v":4.8},{"s":19,"h":15.25,"v":7},{"s":19,"h":15.5,"v":6},{"s":19,"h":15.75,"v":6.5},{"s":19,"h":16,"v":6.8},{"s":19,"h":16.25,"v":6.2},{"s":19,"h":16.5,"v":22},{"s":19,"h":16.75,"v":28},{"s":19,"h":17,"v":26},{"s":19,"h":17.5,"v":13},{"s":19,"h":18,"v":7},{"s":19,"h":18.5,"v":2},{"s":19,"h":19,"v":0.7},{"s":19,"h":19.75,"v":0},{"s":19,"h":23.75,"v":0},
{"s":20,"h":0,"v":0},{"s":20,"h":4.75,"v":0},{"s":20,"h":5.5,"v":3},{"s":20,"h":5.75,"v":4.5},{"s":20,"h":6,"v":7},{"s":20,"h":6.5,"v":12},{"s":20,"h":7,"v":17},{"s":20,"h":7.25,"v":21},{"s":20,"h":7.5,"v":30},{"s":20,"h":8,"v":38},{"s":20,"h":8.5,"v":42},{"s":20,"h":8.75,"v":38},{"s":20,"h":9,"v":47},{"s":20,"h":9.25,"v":58},{"s":20,"h":9.5,"v":60},{"s":20,"h":9.75,"v":56},{"s":20,"h":10,"v":64.9},{"s":20,"h":10.25,"v":65.5},{"s":20,"h":10.5,"v":67.7},{"s":20,"h":10.75,"v":20.7},{"s":20,"h":11,"v":7.4},{"s":20,"h":11.25,"v":4},{"s":20,"h":11.5,"v":26.4},{"s":20,"h":11.75,"v":14.3},{"s":20,"h":12,"v":4},{"s":20,"h":12.25,"v":5.5},{"s":20,"h":12.5,"v":22.6},{"s":20,"h":12.75,"v":33.5},{"s":20,"h":13,"v":32.9},{"s":20,"h":13.25,"v":70},{"s":20,"h":13.5,"v":68},{"s":20,"h":13.75,"v":47.8},{"s":20,"h":14,"v":30},{"s":20,"h":14.25,"v":6.3},{"s":20,"h":14.5,"v":9},{"s":20,"h":14.75,"v":27.6},{"s":20,"h":15,"v":29},{"s":20,"h":15.25,"v":50},{"s":20,"h":15.5,"v":53.5},{"s":20,"h":15.75,"v":14.3},{"s":20,"h":16,"v":29.7},{"s":20,"h":16.25,"v":21.5},{"s":20,"h":16.5,"v":10.5},{"s":20,"h":16.75,"v":7.8},{"s":20,"h":17,"v":7},{"s":20,"h":17.25,"v":9.3},{"s":20,"h":17.5,"v":20.7},{"s":20,"h":17.75,"v":11},{"s":20,"h":18,"v":8},{"s":20,"h":18.25,"v":6},{"s":20,"h":18.5,"v":3.5},{"s":20,"h":19,"v":0.8},{"s":20,"h":19.75,"v":0},{"s":20,"h":23.75,"v":0},
{"s":21,"h":0,"v":0},{"s":21,"h":4.5,"v":0},{"s":21,"h":4.75,"v":1},{"s":21,"h":5,"v":2.5},{"s":21,"h":5.25,"v":5},{"s":21,"h":5.5,"v":7},{"s":21,"h":5.75,"v":9},{"s":21,"h":6,"v":10},{"s":21,"h":6.5,"v":16},{"s":21,"h":7,"v":23},{"s":21,"h":7.5,"v":31},{"s":21,"h":8,"v":40},{"s":21,"h":8.5,"v":47},{"s":21,"h":9,"v":53.5},{"s":21,"h":9.5,"v":60},{"s":21,"h":9.75,"v":57},{"s":21,"h":10,"v":55},{"s":21,"h":10.25,"v":65},{"s":21,"h":10.5,"v":67},{"s":21,"h":10.75,"v":68.9},{"s":21,"h":11,"v":63},{"s":21,"h":11.25,"v":55.3},{"s":21,"h":11.5,"v":59},{"s":21,"h":11.75,"v":70.6},{"s":21,"h":12,"v":69.9},{"s":21,"h":12.25,"v":69.8},{"s":21,"h":12.5,"v":60},{"s":21,"h":12.75,"v":56.9},{"s":21,"h":13,"v":61},{"s":21,"h":13.25,"v":45},{"s":21,"h":13.5,"v":37.8},{"s":21,"h":13.75,"v":42},{"s":21,"h":14,"v":57.5},{"s":21,"h":14.25,"v":57},{"s":21,"h":14.5,"v":24},{"s":21,"h":14.75,"v":29},{"s":21,"h":15,"v":28.4},{"s":21,"h":15.25,"v":52.7},{"s":21,"h":15.5,"v":47},{"s":21,"h":15.75,"v":45.9},{"s":21,"h":16,"v":37},{"s":21,"h":16.25,"v":34.5},{"s":21,"h":16.5,"v":31},{"s":21,"h":16.75,"v":27},{"s":21,"h":17,"v":21},{"s":21,"h":17.25,"v":16},{"s":21,"h":17.5,"v":11},{"s":21,"h":18,"v":6},{"s":21,"h":18.5,"v":2.5},{"s":21,"h":19,"v":0.8},{"s":21,"h":19.75,"v":0},{"s":21,"h":23.75,"v":0},
{"s":22,"h":0,"v":0},{"s":22,"h":4.75,"v":0},{"s":22,"h":5.5,"v":2},{"s":22,"h":5.75,"v":4},{"s":22,"h":6,"v":11.6},{"s":22,"h":6.25,"v":11.5},{"s":22,"h":6.5,"v":16},{"s":22,"h":6.75,"v":20},{"s":22,"h":7,"v":24},{"s":22,"h":7.25,"v":21},{"s":22,"h":7.5,"v":29},{"s":22,"h":7.75,"v":31},{"s":22,"h":8,"v":37.3},{"s":22,"h":8.25,"v":39},{"s":22,"h":8.5,"v":39.2},{"s":22,"h":8.75,"v":42.7},{"s":22,"h":9,"v":42.8},{"s":22,"h":9.25,"v":38.3},{"s":22,"h":9.5,"v":39.8},{"s":22,"h":9.75,"v":38.3},{"s":22,"h":10,"v":35.6},{"s":22,"h":10.25,"v":30.2},{"s":22,"h":10.5,"v":22},{"s":22,"h":10.75,"v":19.4},{"s":22,"h":11,"v":17.9},{"s":22,"h":11.25,"v":16.2},{"s":22,"h":11.5,"v":15.2},{"s":22,"h":11.75,"v":14.3},{"s":22,"h":12,"v":11.4},{"s":22,"h":12.25,"v":13},{"s":22,"h":12.5,"v":14.2},{"s":22,"h":12.75,"v":14.5},{"s":22,"h":13,"v":14.2},{"s":22,"h":13.25,"v":11.5},{"s":22,"h":13.5,"v":10.8},{"s":22,"h":13.75,"v":10},{"s":22,"h":14,"v":6.7},{"s":22,"h":14.25,"v":10.4},{"s":22,"h":14.5,"v":3.2},{"s":22,"h":14.75,"v":3.7},{"s":22,"h":15,"v":6.2},{"s":22,"h":15.25,"v":3.5},{"s":22,"h":15.5,"v":4.6},{"s":22,"h":15.75,"v":5.5},{"s":22,"h":16,"v":3.5},{"s":22,"h":16.25,"v":2.4},{"s":22,"h":16.5,"v":2.6},{"s":22,"h":16.75,"v":2.8},{"s":22,"h":17,"v":2.9},{"s":22,"h":17.25,"v":3.5},{"s":22,"h":17.5,"v":2.5},{"s":22,"h":17.75,"v":8},{"s":22,"h":18,"v":8.3},{"s":22,"h":18.25,"v":3},{"s":22,"h":18.5,"v":0.5},{"s":22,"h":18.75,"v":0.2},{"s":22,"h":19,"v":0.1},{"s":22,"h":19.75,"v":0},{"s":22,"h":23.75,"v":0},
{"s":23,"h":0,"v":0},{"s":23,"h":5,"v":0},{"s":23,"h":5.75,"v":1},{"s":23,"h":6,"v":2},{"s":23,"h":6.25,"v":3.5},{"s":23,"h":6.5,"v":2.5},{"s":23,"h":6.75,"v":4},{"s":23,"h":7,"v":9},{"s":23,"h":7.25,"v":13.8},{"s":23,"h":7.5,"v":11},{"s":23,"h":7.75,"v":9.5},{"s":23,"h":8,"v":10.5},{"s":23,"h":8.25,"v":20},{"s":23,"h":8.5,"v":38},{"s":23,"h":8.75,"v":48.5},{"s":23,"h":9,"v":52.7},{"s":23,"h":9.25,"v":43},{"s":23,"h":9.5,"v":38},{"s":23,"h":9.75,"v":25.3},{"s":23,"h":10,"v":25},{"s":23,"h":10.25,"v":33},{"s":23,"h":10.5,"v":64},{"s":23,"h":10.75,"v":54.9},{"s":23,"h":11,"v":60},{"s":23,"h":11.25,"v":63.2},{"s":23,"h":11.5,"v":56.8},{"s":23,"h":11.75,"v":56},{"s":23,"h":12,"v":41.9},{"s":23,"h":12.25,"v":55.4},{"s":23,"h":12.5,"v":52.7},{"s":23,"h":12.75,"v":62.2},{"s":23,"h":13,"v":66.2},{"s":23,"h":13.25,"v":66.4},{"s":23,"h":13.5,"v":45.5},{"s":23,"h":13.75,"v":55.4},{"s":23,"h":14,"v":55.6},{"s":23,"h":14.25,"v":36.7},{"s":23,"h":14.5,"v":30},{"s":23,"h":14.75,"v":29.3},{"s":23,"h":15,"v":35.6},{"s":23,"h":15.25,"v":30},{"s":23,"h":15.5,"v":33},{"s":23,"h":15.75,"v":26.8},{"s":23,"h":16,"v":21.5},{"s":23,"h":16.25,"v":14.6},{"s":23,"h":16.5,"v":10.8},{"s":23,"h":16.75,"v":8.4},{"s":23,"h":17,"v":9.5},{"s":23,"h":17.25,"v":10.6},{"s":23,"h":17.5,"v":10.6},{"s":23,"h":17.75,"v":3.6},{"s":23,"h":18,"v":5},{"s":23,"h":18.25,"v":5},{"s":23,"h":18.5,"v":3},{"s":23,"h":19,"v":0.7},{"s":23,"h":19.75,"v":0},{"s":23,"h":23.75,"v":0},
{"s":24,"h":0,"v":0},{"s":24,"h":5.25,"v":0},{"s":24,"h":5.5,"v":0.1},{"s":24,"h":5.75,"v":0.3},{"s":24,"h":6,"v":0.8},{"s":24,"h":6.25,"v":1},{"s":24,"h":6.5,"v":1.2},{"s":24,"h":6.75,"v":4.6},{"s":24,"h":7,"v":9.7},{"s":24,"h":7.25,"v":4.4},{"s":24,"h":7.5,"v":2.3},{"s":24,"h":7.75,"v":3.6},{"s":24,"h":8,"v":4.4},{"s":24,"h":8.25,"v":5.9},{"s":24,"h":8.5,"v":15},{"s":24,"h":8.75,"v":47.2},{"s":24,"h":9,"v":43.6},{"s":24,"h":9.25,"v":26},{"s":24,"h":9.5,"v":40},{"s":24,"h":9.75,"v":30},{"s":24,"h":10,"v":22},{"s":24,"h":10.25,"v":36},{"s":24,"h":10.5,"v":64},{"s":24,"h":10.75,"v":50},{"s":24,"h":11,"v":25},{"s":24,"h":11.25,"v":12},{"s":24,"h":11.5,"v":5.1},{"s":24,"h":11.75,"v":15},{"s":24,"h":12,"v":39},{"s":24,"h":12.25,"v":62},{"s":24,"h":12.5,"v":62.5},{"s":24,"h":12.75,"v":44},{"s":24,"h":13,"v":38},{"s":24,"h":13.25,"v":65},{"s":24,"h":13.5,"v":30},{"s":24,"h":13.75,"v":45},{"s":24,"h":14,"v":39.4},{"s":24,"h":14.25,"v":52},{"s":24,"h":14.5,"v":49},{"s":24,"h":14.75,"v":60},{"s":24,"h":15,"v":56.9},{"s":24,"h":15.25,"v":55},{"s":24,"h":15.5,"v":48},{"s":24,"h":15.75,"v":39},{"s":24,"h":16,"v":28},{"s":24,"h":16.25,"v":25},{"s":24,"h":16.5,"v":22},{"s":24,"h":16.75,"v":18},{"s":24,"h":17,"v":12},{"s":24,"h":17.5,"v":7},{"s":24,"h":18,"v":5},{"s":24,"h":18.5,"v":2},{"s":24,"h":19,"v":0.5},{"s":24,"h":19.75,"v":0},{"s":24,"h":23.75,"v":0},
{"s":25,"h":0,"v":0},{"s":25,"h":4.75,"v":0},{"s":25,"h":5,"v":0.7},{"s":25,"h":5.5,"v":3},{"s":25,"h":5.75,"v":4},{"s":25,"h":6,"v":6},{"s":25,"h":6.25,"v":8},{"s":25,"h":6.5,"v":12},{"s":25,"h":6.75,"v":14.5},{"s":25,"h":7,"v":15.5},{"s":25,"h":7.25,"v":10.5},{"s":25,"h":7.5,"v":11},{"s":25,"h":7.75,"v":18},{"s":25,"h":8,"v":19},{"s":25,"h":8.25,"v":10.3},{"s":25,"h":8.5,"v":8.6},{"s":25,"h":8.75,"v":11},{"s":25,"h":9,"v":25},{"s":25,"h":9.25,"v":29},{"s":25,"h":9.5,"v":43.4},{"s":25,"h":9.75,"v":44},{"s":25,"h":10,"v":49},{"s":25,"h":10.25,"v":42},{"s":25,"h":10.5,"v":46.8},{"s":25,"h":10.75,"v":42.8},{"s":25,"h":11,"v":64.9},{"s":25,"h":11.25,"v":68.7},{"s":25,"h":11.5,"v":70},{"s":25,"h":11.75,"v":59},{"s":25,"h":12,"v":53.7},{"s":25,"h":12.25,"v":70.8},{"s":25,"h":12.5,"v":69.6},{"s":25,"h":12.75,"v":64.5},{"s":25,"h":13,"v":58},{"s":25,"h":13.25,"v":56},{"s":25,"h":13.5,"v":64},{"s":25,"h":13.75,"v":57.3},{"s":25,"h":14,"v":46.6},{"s":25,"h":14.25,"v":56},{"s":25,"h":14.5,"v":55.4},{"s":25,"h":14.75,"v":50.8},{"s":25,"h":15,"v":53.5},{"s":25,"h":15.25,"v":49.7},{"s":25,"h":15.5,"v":43},{"s":25,"h":15.75,"v":41.7},{"s":25,"h":16,"v":40.2},{"s":25,"h":16.25,"v":37},{"s":25,"h":16.5,"v":23.4},{"s":25,"h":16.75,"v":24.3},{"s":25,"h":17,"v":13.9},{"s":25,"h":17.25,"v":16.5},{"s":25,"h":17.5,"v":12.4},{"s":25,"h":17.75,"v":13.5},{"s":25,"h":18,"v":11},{"s":25,"h":18.25,"v":7},{"s":25,"h":18.5,"v":4},{"s":25,"h":19,"v":1},{"s":25,"h":19.5,"v":0.2},{"s":25,"h":19.75,"v":0},{"s":25,"h":23.75,"v":0},
{"s":26,"h":0,"v":0},{"s":26,"h":5,"v":0},{"s":26,"h":5.5,"v":0.5},{"s":26,"h":6,"v":1},{"s":26,"h":6.5,"v":2.5},{"s":26,"h":6.75,"v":3},{"s":26,"h":7,"v":3},{"s":26,"h":7.25,"v":4},{"s":26,"h":7.5,"v":8},{"s":26,"h":7.75,"v":14},{"s":26,"h":8,"v":18},{"s":26,"h":8.25,"v":28.5},{"s":26,"h":8.5,"v":24},{"s":26,"h":8.75,"v":15},{"s":26,"h":9,"v":10.8},{"s":26,"h":9.25,"v":18},{"s":26,"h":9.5,"v":16.8},{"s":26,"h":9.75,"v":10.3},{"s":26,"h":10,"v":8.2},{"s":26,"h":10.25,"v":7.6},{"s":26,"h":10.5,"v":9},{"s":26,"h":10.75,"v":8.6},{"s":26,"h":11,"v":9.4},{"s":26,"h":11.25,"v":13},{"s":26,"h":11.5,"v":14},{"s":26,"h":11.75,"v":12.5},{"s":26,"h":12,"v":10.5},{"s":26,"h":12.25,"v":9.1},{"s":26,"h":12.5,"v":11.7},{"s":26,"h":12.75,"v":11.8},{"s":26,"h":13,"v":9.5},{"s":26,"h":13.25,"v":10},{"s":26,"h":13.5,"v":6.5},{"s":26,"h":13.75,"v":4.5},{"s":26,"h":14,"v":5.9},{"s":26,"h":14.25,"v":5.8},{"s":26,"h":14.5,"v":5.2},{"s":26,"h":14.75,"v":5.2},{"s":26,"h":15,"v":3.9},{"s":26,"h":15.25,"v":3.7},{"s":26,"h":15.5,"v":3.3},{"s":26,"h":15.75,"v":3.2},{"s":26,"h":16,"v":3.2},{"s":26,"h":16.25,"v":2.9},{"s":26,"h":16.5,"v":3.3},{"s":26,"h":16.75,"v":2.2},{"s":26,"h":17,"v":2},{"s":26,"h":17.25,"v":2.5},{"s":26,"h":17.5,"v":2.6},{"s":26,"h":17.75,"v":2.6},{"s":26,"h":18,"v":1.5},{"s":26,"h":18.25,"v":2.5},{"s":26,"h":18.5,"v":3.5},{"s":26,"h":18.75,"v":2.8},{"s":26,"h":19,"v":1.5},{"s":26,"h":19.5,"v":0.2},{"s":26,"h":19.75,"v":0},{"s":26,"h":23.75,"v":0},
{"s":27,"h":0,"v":0},{"s":27,"h":4.75,"v":0},{"s":27,"h":5,"v":0.5},{"s":27,"h":5.5,"v":3},{"s":27,"h":5.75,"v":5},{"s":27,"h":6,"v":6.5},{"s":27,"h":6.25,"v":9},{"s":27,"h":6.5,"v":13},{"s":27,"h":6.75,"v":17},{"s":27,"h":7,"v":15.5},{"s":27,"h":7.25,"v":12},{"s":27,"h":7.5,"v":13},{"s":27,"h":7.75,"v":15},{"s":27,"h":8,"v":17.5},{"s":27,"h":8.25,"v":22},{"s":27,"h":8.5,"v":24.5},{"s":27,"h":8.75,"v":26},{"s":27,"h":9,"v":23},{"s":27,"h":9.25,"v":20.5},{"s":27,"h":9.5,"v":25},{"s":27,"h":9.75,"v":34},{"s":27,"h":10,"v":37},{"s":27,"h":10.25,"v":36},{"s":27,"h":10.5,"v":23.6},{"s":27,"h":10.75,"v":28},{"s":27,"h":11,"v":34.4},{"s":27,"h":11.25,"v":36},{"s":27,"h":11.5,"v":34},{"s":27,"h":11.75,"v":40},{"s":27,"h":12,"v":55.4},{"s":27,"h":12.25,"v":45.9},{"s":27,"h":12.5,"v":40.9},{"s":27,"h":12.75,"v":26.4},{"s":27,"h":13,"v":26.4},{"s":27,"h":13.25,"v":35},{"s":27,"h":13.5,"v":37.5},{"s":27,"h":13.75,"v":22.6},{"s":27,"h":14,"v":18},{"s":27,"h":14.25,"v":16.5},{"s":27,"h":14.5,"v":20},{"s":27,"h":14.75,"v":24.5},{"s":27,"h":15,"v":17.3},{"s":27,"h":15.25,"v":11.8},{"s":27,"h":15.5,"v":10.6},{"s":27,"h":15.75,"v":10.3},{"s":27,"h":16,"v":12},{"s":27,"h":16.25,"v":12.8},{"s":27,"h":16.5,"v":12.4},{"s":27,"h":16.75,"v":7},{"s":27,"h":17,"v":7},{"s":27,"h":17.25,"v":3.6},{"s":27,"h":17.5,"v":7.4},{"s":27,"h":17.75,"v":11},{"s":27,"h":18,"v":6},{"s":27,"h":18.25,"v":3},{"s":27,"h":18.5,"v":1.5},{"s":27,"h":18.75,"v":0.7},{"s":27,"h":19,"v":0.2},{"s":27,"h":19.25,"v":0.1},{"s":27,"h":19.75,"v":0},{"s":27,"h":23.75,"v":0},
{"s":28,"h":0,"v":0},{"s":28,"h":4.75,"v":0},{"s":28,"h":5.5,"v":3},{"s":28,"h":5.75,"v":4},{"s":28,"h":6,"v":8.4},{"s":28,"h":6.25,"v":7.4},{"s":28,"h":6.5,"v":6.8},{"s":28,"h":6.75,"v":11},{"s":28,"h":7,"v":12.7},{"s":28,"h":7.25,"v":19.6},{"s":28,"h":7.5,"v":32.9},{"s":28,"h":7.75,"v":32.3},{"s":28,"h":8,"v":31.4},{"s":28,"h":8.25,"v":28.3},{"s":28,"h":8.5,"v":26.8},{"s":28,"h":8.75,"v":44.6},{"s":28,"h":9,"v":29},{"s":28,"h":9.25,"v":46},{"s":28,"h":9.5,"v":60.7},{"s":28,"h":9.75,"v":38},{"s":28,"h":10,"v":18},{"s":28,"h":10.25,"v":36.7},{"s":28,"h":10.5,"v":32.9},{"s":28,"h":10.75,"v":40},{"s":28,"h":11,"v":47},{"s":28,"h":11.25,"v":56},{"s":28,"h":11.5,"v":40},{"s":28,"h":11.75,"v":40.4},{"s":28,"h":12,"v":61.5},{"s":28,"h":12.25,"v":48},{"s":28,"h":12.5,"v":55.7},{"s":28,"h":12.75,"v":54.8},{"s":28,"h":13,"v":61},{"s":28,"h":13.25,"v":69},{"s":28,"h":13.5,"v":66.7},{"s":28,"h":13.75,"v":50},{"s":28,"h":14,"v":42},{"s":28,"h":14.25,"v":55.8},{"s":28,"h":14.5,"v":26.4},{"s":28,"h":14.75,"v":35},{"s":28,"h":15,"v":33.6},{"s":28,"h":15.25,"v":38},{"s":28,"h":15.5,"v":50.4},{"s":28,"h":15.75,"v":42.5},{"s":28,"h":16,"v":34},{"s":28,"h":16.25,"v":22.6},{"s":28,"h":16.5,"v":17},{"s":28,"h":16.75,"v":16.2},{"s":28,"h":17,"v":7.4},{"s":28,"h":17.25,"v":2.5},{"s":28,"h":17.5,"v":1.4},{"s":28,"h":17.75,"v":2.7},{"s":28,"h":18,"v":2},{"s":28,"h":18.25,"v":1.2},{"s":28,"h":18.5,"v":1},{"s":28,"h":18.75,"v":3},{"s":28,"h":19,"v":2.5},{"s":28,"h":19.25,"v":1.2},{"s":28,"h":19.5,"v":0.3},{"s":28,"h":19.75,"v":0},{"s":28,"h":23.75,"v":0},
{"s":29,"h":0,"v":0},{"s":29,"h":5,"v":0},{"s":29,"h":5.5,"v":1},{"s":29,"h":6,"v":1.2},{"s":29,"h":6.25,"v":1},{"s":29,"h":6.5,"v":2},{"s":29,"h":6.75,"v":8},{"s":29,"h":7,"v":13},{"s":29,"h":7.25,"v":22},{"s":29,"h":7.5,"v":15.8},{"s":29,"h":7.75,"v":18},{"s":29,"h":8,"v":22.2},{"s":29,"h":8.25,"v":31},{"s":29,"h":8.5,"v":32},{"s":29,"h":8.75,"v":33.8},{"s":29,"h":9,"v":14.3},{"s":29,"h":9.25,"v":12.4},{"s":29,"h":9.5,"v":16},{"s":29,"h":9.75,"v":29.9},{"s":29,"h":10,"v":64.1},{"s":29,"h":10.25,"v":44.7},{"s":29,"h":10.5,"v":50},{"s":29,"h":10.75,"v":36.7},{"s":29,"h":11,"v":49.3},{"s":29,"h":11.25,"v":28},{"s":29,"h":11.5,"v":34},{"s":29,"h":11.75,"v":50},{"s":29,"h":12,"v":72.9},{"s":29,"h":12.25,"v":58},{"s":29,"h":12.5,"v":72.6},{"s":29,"h":12.75,"v":67.6},{"s":29,"h":13,"v":53},{"s":29,"h":13.25,"v":39.4},{"s":29,"h":13.5,"v":62},{"s":29,"h":13.75,"v":58.5},{"s":29,"h":14,"v":51},{"s":29,"h":14.25,"v":50.8},{"s":29,"h":14.5,"v":63.6},{"s":29,"h":14.75,"v":37},{"s":29,"h":15,"v":36.8},{"s":29,"h":15.25,"v":57.3},{"s":29,"h":15.5,"v":51},{"s":29,"h":15.75,"v":44},{"s":29,"h":16,"v":10.5},{"s":29,"h":16.25,"v":36},{"s":29,"h":16.5,"v":41},{"s":29,"h":16.75,"v":32},{"s":29,"h":17,"v":25},{"s":29,"h":17.25,"v":19},{"s":29,"h":17.5,"v":13},{"s":29,"h":17.75,"v":9},{"s":29,"h":18,"v":6},{"s":29,"h":18.25,"v":3.5},{"s":29,"h":18.5,"v":2},{"s":29,"h":18.75,"v":1.2},{"s":29,"h":19,"v":0.7},{"s":29,"h":19.25,"v":0.4},{"s":29,"h":19.5,"v":0.1},{"s":29,"h":19.75,"v":0},{"s":29,"h":23.75,"v":0},
{"s":30,"h":0,"v":0},{"s":30,"h":5,"v":0},{"s":30,"h":5.5,"v":1.5},{"s":30,"h":5.75,"v":2},{"s":30,"h":6,"v":3},{"s":30,"h":6.25,"v":4.5},{"s":30,"h":6.5,"v":7},{"s":30,"h":6.75,"v":9},{"s":30,"h":7,"v":14},{"s":30,"h":7.25,"v":18},{"s":30,"h":7.5,"v":26},{"s":30,"h":7.75,"v":30},{"s":30,"h":8,"v":35},{"s":30,"h":8.25,"v":38},{"s":30,"h":8.5,"v":45.9},{"s":30,"h":8.75,"v":38.7},{"s":30,"h":9,"v":42.8},{"s":30,"h":9.25,"v":39.6},{"s":30,"h":9.5,"v":50.7},{"s":30,"h":9.75,"v":33},{"s":30,"h":10,"v":30},{"s":30,"h":10.25,"v":35.7},{"s":30,"h":10.5,"v":29},{"s":30,"h":10.75,"v":19.6},{"s":30,"h":11,"v":23.5},{"s":30,"h":11.25,"v":18},{"s":30,"h":11.5,"v":36},{"s":30,"h":11.75,"v":30.2},{"s":30,"h":12,"v":24.5},{"s":30,"h":12.25,"v":16.2},{"s":30,"h":12.5,"v":26.4},{"s":30,"h":12.75,"v":47.4},{"s":30,"h":13,"v":18},{"s":30,"h":13.25,"v":19.2},{"s":30,"h":13.5,"v":23.8},{"s":30,"h":13.75,"v":19.6},{"s":30,"h":14,"v":10.8},{"s":30,"h":14.25,"v":13.3},{"s":30,"h":14.5,"v":21.9},{"s":30,"h":14.75,"v":16.9},{"s":30,"h":15,"v":11.4},{"s":30,"h":15.25,"v":26},{"s":30,"h":15.5,"v":36},{"s":30,"h":15.75,"v":43.2},{"s":30,"h":16,"v":25},{"s":30,"h":16.25,"v":10.5},{"s":30,"h":16.5,"v":13.5},{"s":30,"h":16.75,"v":10.8},{"s":30,"h":17,"v":9.7},{"s":30,"h":17.25,"v":7.4},{"s":30,"h":17.5,"v":4.8},{"s":30,"h":17.75,"v":6.1},{"s":30,"h":18,"v":5.5},{"s":30,"h":18.25,"v":5},{"s":30,"h":18.5,"v":3.8},{"s":30,"h":18.75,"v":4.2},{"s":30,"h":19,"v":2.5},{"s":30,"h":19.25,"v":1.3},{"s":30,"h":19.5,"v":0.4},{"s":30,"h":19.75,"v":0},{"s":30,"h":23.75,"v":0}
]},
"mark":{"type":"line","strokeWidth":2.6,"clip":false,"strokeJoin":"miter"},
"encoding":{
"x":{"field":"h","type":"quantitative","scale":{"domain":[-0.125,23.875],"nice":false,"zero":false},"axis":{"values":[0,1,2,3,4,5,6,7,8,9,10,11,12,13,14,15,16,17,18,19,20,21,22,23],"format":"d","grid":false,"ticks":false,"domain":true,"domainColor":"#000000","domainWidth":1,"labelFont":"Liberation Sans","labelFontSize":32,"labelColor":"#000000","labelPadding":30,"labelFlush":false,"labelOverlap":false,"title":"Hour","titleFont":"Liberation Serif","titleFontWeight":"bold","titleFontSize":38,"titleColor":"#000000","titleX":770,"titleY":97,"titleAlign":"center","titleBaseline":"alphabetic"}},
"y":{"field":"v","type":"quantitative","scale":{"domain":[0,80],"nice":false},"axis":{"values":[0,10,20,30,40,50,60,70,80],"grid":true,"gridColor":"#5c5c5c","gridWidth":1,"ticks":false,"domain":false,"labels":false,"title":"Megawatts","titleFont":"Liberation Serif","titleFontWeight":"bold","titleFontSize":38,"titleColor":"#000000","titleX":-45,"titleY":424,"titleAlign":"center","titleAngle":-90,"titleBaseline":"alphabetic"}},
"color":{"field":"s","type":"nominal","legend":null,"sort":null,"scale":{"domain":[1,2,3,4,5,6,7,8,9,10,11,12,13,14,15,16,17,18,19,20,21,22,23,24,25,26,27,28,29,30],"range":["#000080","#FF00FF","#FFFF00","#00FFFF","#800080","#800000","#008080","#0000FF","#00CCFF","#CCFFFF","#CCFFCC","#FFFF99","#99CCFF","#FF99CC","#CC99FF","#FFCC99","#3366FF","#33CCCC","#99CC00","#FFCC00","#FF9900","#FF6600","#666699","#969696","#003366","#339966","#003300","#333300","#993300","#993366"]}}
}}
